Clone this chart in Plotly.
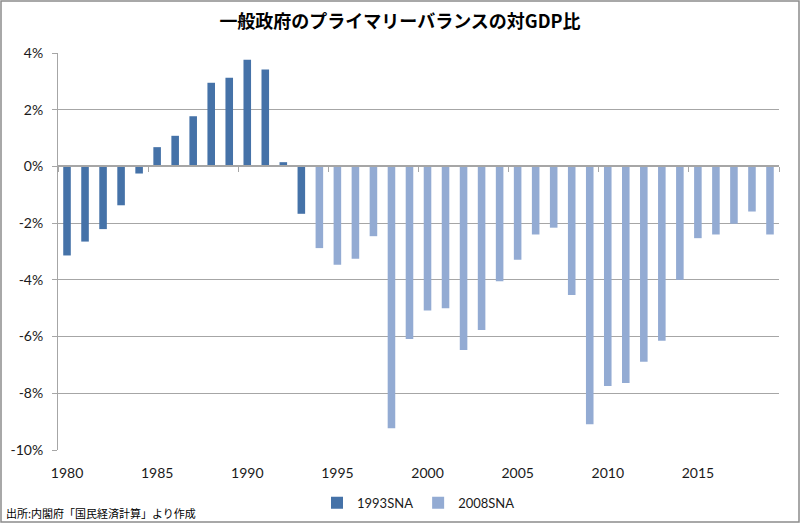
import plotly.graph_objects as go

# 一般政府のプライマリーバランス（対GDP比, %）
years_93 = [1980, 1981, 1982, 1983, 1984, 1985, 1986, 1987, 1988, 1989,
            1990, 1991, 1992, 1993]
pb_93 = [-3.14, -2.65, -2.21, -1.37, -0.25, 0.68, 1.08, 1.77, 2.95, 3.13,
         3.76, 3.42, 0.15, -1.67]

years_08 = [1994, 1995, 1996, 1997, 1998, 1999, 2000, 2001, 2002, 2003,
            2004, 2005, 2006, 2007, 2008, 2009, 2010, 2011, 2012, 2013,
            2014, 2015, 2016, 2017, 2018, 2019]
pb_08 = [-2.88, -3.47, -3.26, -2.46, -9.23, -6.09, -5.08, -5.0, -6.47, -5.77,
         -4.05, -3.29, -2.4, -2.16, -4.53, -9.09, -7.74, -7.64, -6.89, -6.15,
         -4.0, -2.53, -2.4, -2.02, -1.59, -2.4]

year_labels = [1980, 1985, 1990, 1995, 2000, 2005, 2010, 2015]
boundary_ticks = [1979.5, 1984.5, 1989.5, 1994.5, 1999.5, 2004.5, 2009.5, 2014.5, 2019.5]
y_ticks = [4, 2, 0, -2, -4, -6, -8, -10]

latin = "Lato, 'Noto Sans CJK JP', sans-serif"
cjk = "'Noto Sans CJK JP', sans-serif"
grid = "#a6a6a6"

fig = go.Figure()
fig.add_trace(go.Bar(x=years_93, y=pb_93, name="1993SNA", width=0.42,
                     marker=dict(color="#4572a8", line=dict(width=0))))
# second series sits on the overlaid axis that draws the 0% line with ticks
fig.add_trace(go.Bar(x=years_08, y=pb_08, name="2008SNA", width=0.42,
                     xaxis="x2",
                     marker=dict(color="#93abd3", line=dict(width=0))))

fig.update_layout(
    width=800, height=523,
    margin=dict(l=58, r=21, t=53, b=73, autoexpand=False),
    paper_bgcolor="white", plot_bgcolor="white",
    barmode="overlay",
    title=dict(text="<b>一般政府のプライマリーバランスの対GDP比</b>",
               x=0.5, xanchor="center", y=0.958, yanchor="middle",
               font=dict(family=cjk, size=18, color="#000000")),
    font=dict(family=latin, size=14, color="#1a1a1a"),
    xaxis=dict(range=[1979.5, 2019.5], tickvals=year_labels,
               ticktext=[str(v) for v in year_labels],
               showline=False, showgrid=False, zeroline=False, ticks="",
               ticklabelstandoff=13, tickfont=dict(size=14)),
    xaxis2=dict(overlaying="x", anchor="free", position=10 / 14,
                matches="x", tickvals=boundary_ticks,
                showticklabels=False, ticks="outside", ticklen=5,
                tickcolor=grid, showline=True, linecolor=grid, linewidth=1.5,
                showgrid=False, zeroline=False),
    yaxis=dict(range=[-10, 4], tickvals=y_ticks,
               ticktext=[f"{v}%" for v in y_ticks],
               showgrid=True, gridcolor=grid, gridwidth=1,
               zeroline=False, showline=True, linecolor=grid,
               ticks="outside", ticklen=5, tickcolor=grid,
               ticklabelstandoff=6, tickfont=dict(size=14)),
    legend=dict(orientation="h", x=0.5, xanchor="center", y=-0.133,
                yanchor="middle", font=dict(size=13),
                traceorder="normal"),
    showlegend=True,
)

fig.add_annotation(text="出所:内閣府「国民経済計算」より作成",
                   xref="paper", yref="paper", x=-0.075, xanchor="left",
                   y=-0.158, yanchor="middle", showarrow=False,
                   font=dict(family=cjk, size=11, color="#000000"))

# outer chart border
fig.add_shape(type="rect", xref="paper", yref="paper",
              x0=-57 / 721, x1=1 + 20 / 721, y0=-72 / 397, y1=1 + 52 / 397,
              line=dict(color="#8c8c8c", width=1.5), layer="above")

fig.write_html("out.html", config={"displayModeBar": False},
               post_script="document.body.style.margin='0';")
